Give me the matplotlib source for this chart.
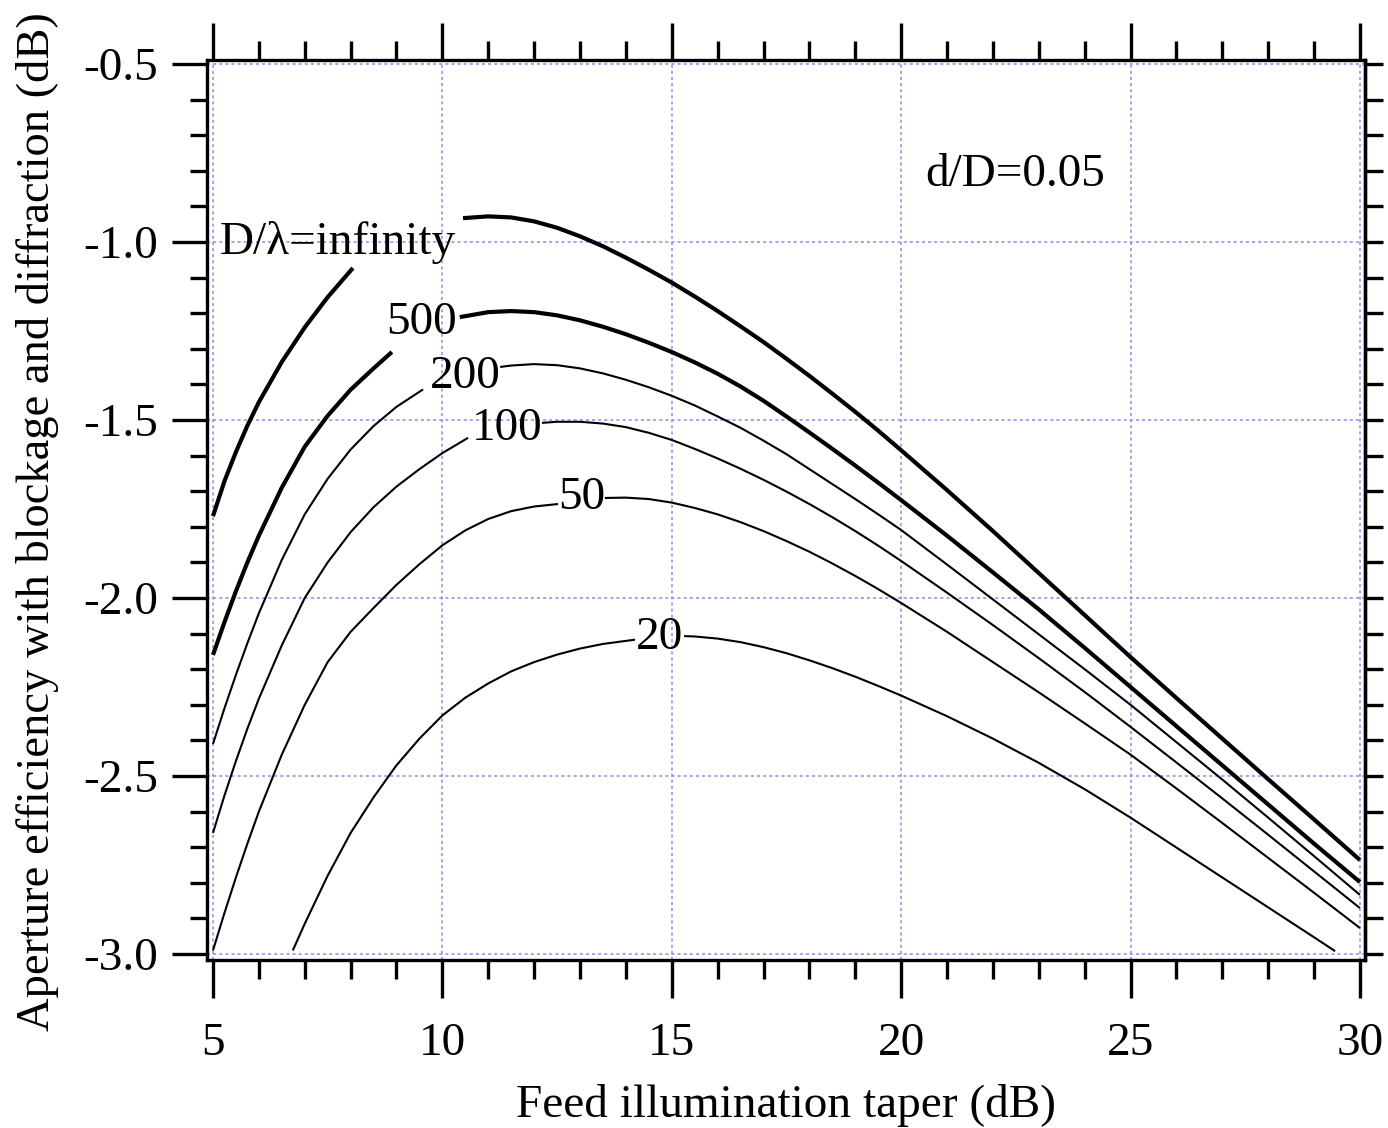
import numpy as np
import matplotlib
matplotlib.use("Agg")
import matplotlib.pyplot as plt
from matplotlib.ticker import MultipleLocator, FormatStrFormatter

plt.rcParams['font.family'] = ['Liberation Serif', 'DejaVu Serif']
plt.rcParams['axes.unicode_minus'] = False

# ------------------------
# Data, D/lambda curves
# each curve: left part | right part (gap where the label sits)
# ------------------------
inf_x_left = [5, 5.25, 5.5, 5.75, 6, 6.5, 7, 7.5, 8.05]
inf_y_left = [-1.77, -1.672, -1.59, -1.516, -1.45, -1.337, -1.24, -1.155, -1.073]
inf_x_right = [10.45, 11, 11.5, 12, 12.5, 13, 13.5, 14, 14.5, 15, 15.5, 16, 16.5, 17, 17.5,
               18, 18.5, 19, 19.5, 20, 21, 22, 23, 24, 25, 26, 27, 28, 29, 30]
inf_y_right = [-0.933, -0.928, -0.931, -0.942, -0.960, -0.984, -1.012, -1.044, -1.078, -1.114,
               -1.153, -1.194, -1.237, -1.281, -1.328, -1.376, -1.426, -1.477, -1.530, -1.585,
               -1.697, -1.812, -1.930, -2.048, -2.166, -2.281, -2.395, -2.509, -2.622, -2.736]

d500_x_left = [5, 5.25, 5.5, 5.75, 6, 6.5, 7, 7.5, 8, 8.5, 8.9]
d500_y_left = [-2.16, -2.068, -1.981, -1.900, -1.825, -1.690, -1.575, -1.488, -1.415, -1.355, -1.309]
d500_x_right = [10.38, 11, 11.5, 12, 12.5, 13, 13.5, 14, 14.5, 15, 15.5, 16, 16.5, 17, 17.5,
                18, 18.5, 19, 19.5, 20, 21, 22, 23, 24, 25, 26, 27, 28, 29, 30]
d500_y_right = [-1.211, -1.197, -1.194, -1.197, -1.206, -1.220, -1.238, -1.259, -1.283, -1.309,
                -1.338, -1.370, -1.406, -1.446, -1.490, -1.535, -1.581, -1.628, -1.676, -1.725,
                -1.825, -1.928, -2.032, -2.140, -2.250, -2.360, -2.470, -2.580, -2.690, -2.798]

d200_x_left = [5, 5.25, 5.5, 5.75, 6, 6.5, 7, 7.5, 8, 8.5, 9, 9.58]
d200_y_left = [-2.41, -2.31, -2.216, -2.127, -2.043, -1.893, -1.765, -1.665, -1.583, -1.517, -1.463, -1.414]
d200_x_right = [11.26, 11.5, 12, 12.5, 13, 13.5, 14, 14.5, 15, 15.5, 16, 16.5, 17, 17.5,
                18, 18.5, 19, 19.5, 20, 21, 22, 23, 24, 25, 26, 27, 28, 29, 30]
d200_y_right = [-1.351, -1.347, -1.343, -1.346, -1.355, -1.369, -1.387, -1.408, -1.432, -1.459,
                -1.490, -1.522, -1.558, -1.596, -1.638, -1.680, -1.722, -1.765, -1.809,
                -1.906, -2.004, -2.102, -2.200, -2.300, -2.405, -2.510, -2.617, -2.725, -2.834]

d100_x_left = [5, 5.25, 5.5, 5.75, 6, 6.5, 7, 7.5, 8, 8.5, 9, 9.5, 10, 10.56]
d100_y_left = [-2.66, -2.555, -2.458, -2.367, -2.283, -2.133, -2.0, -1.9, -1.815, -1.745, -1.687,
               -1.638, -1.593, -1.550]
d100_x_right = [12.17, 12.5, 13, 13.5, 14, 14.5, 15, 15.5, 16, 16.5, 17, 17.5, 18, 18.5, 19, 19.5,
                20, 21, 22, 23, 24, 25, 26, 27, 28, 29, 30]
d100_y_right = [-1.508, -1.505, -1.505, -1.510, -1.520, -1.536, -1.556, -1.581, -1.608, -1.637,
                -1.668, -1.701, -1.736, -1.773, -1.812, -1.853, -1.896, -1.985, -2.076, -2.169,
                -2.264, -2.362, -2.462, -2.563, -2.665, -2.768, -2.871]

d50_x_left = [5, 5.25, 5.5, 5.75, 6, 6.5, 7, 7.5, 8, 8.5, 9, 9.5, 10, 10.5, 11, 11.5, 12, 12.52]
d50_y_left = [-2.99, -2.885, -2.785, -2.69, -2.60, -2.44, -2.30, -2.18, -2.095, -2.028, -1.963,
              -1.905, -1.852, -1.81, -1.778, -1.756, -1.743, -1.736]
d50_x_right = [13.54, 14, 14.5, 15, 15.5, 16, 16.5, 17, 17.5, 18, 18.5, 19, 19.5, 20,
               21, 22, 23, 24, 25, 26, 27, 28, 29, 30]
d50_y_right = [-1.719, -1.718, -1.722, -1.732, -1.747, -1.765, -1.787, -1.812, -1.840, -1.870,
               -1.903, -1.938, -1.975, -2.014, -2.095, -2.180, -2.265, -2.352, -2.440, -2.535,
               -2.632, -2.730, -2.828, -2.927]

d20_x_left = [6.74, 7, 7.5, 8, 8.5, 8.86, 9, 9.5, 10, 10.5, 11, 11.5, 12, 12.5, 13, 13.5, 14.2]
d20_y_left = [-2.99, -2.915, -2.78, -2.66, -2.56, -2.495, -2.47, -2.395, -2.33, -2.28, -2.24,
              -2.206, -2.18, -2.159, -2.142, -2.129, -2.117]
d20_x_right = [15.27, 15.5, 16, 16.5, 17, 17.5, 18, 18.5, 19, 19.5, 20, 21, 22, 23, 24, 25,
               26, 27, 28, 29, 29.46]
d20_y_right = [-2.107, -2.108, -2.114, -2.124, -2.138, -2.155, -2.175, -2.197, -2.221, -2.247,
               -2.274, -2.332, -2.395, -2.463, -2.537, -2.617, -2.701, -2.785, -2.869, -2.953, -2.992]

curve_labels = ["D/\u03bb=infinity", "500", "200", "100", "50", "20"]
label_x = [5.15, 9.55, 10.49, 11.41, 13.04, 14.74]
label_y = [-1.0, -1.228, -1.379, -1.525, -1.719, -2.112]

curves = [
    (inf_x_left, inf_y_left, inf_x_right, inf_y_right, 3.0),
    (d500_x_left, d500_y_left, d500_x_right, d500_y_right, 3.0),
    (d200_x_left, d200_y_left, d200_x_right, d200_y_right, 1.5),
    (d100_x_left, d100_y_left, d100_x_right, d100_y_right, 1.5),
    (d50_x_left, d50_y_left, d50_x_right, d50_y_right, 1.5),
    (d20_x_left, d20_y_left, d20_x_right, d20_y_right, 1.5),
]

# ------------------------
# Plot
# ------------------------
fig = plt.figure(figsize=(13.88, 11.28), dpi=100)
ax = fig.add_axes([0.1491, 0.1489, 0.8343, 0.7979])

for xl, yl, xr, yr, lw in curves:
    ax.plot(xl, yl, color='black', lw=lw, solid_capstyle='butt', solid_joinstyle='round')
    ax.plot(xr, yr, color='black', lw=lw, solid_capstyle='butt', solid_joinstyle='round')

fs = 34
for i, lab in enumerate(curve_labels):
    ha = 'left' if i == 0 else 'center'
    ax.text(label_x[i], label_y[i], lab, ha=ha, va='center', fontsize=fs)

ax.text(20.52, -0.812, "d/D=0.05", ha='left', va='center', fontsize=fs)

ax.set_xlim(4.869, 30.109)
ax.set_ylim(-3.0169, -0.4888)

ax.xaxis.set_major_locator(MultipleLocator(5))
ax.xaxis.set_minor_locator(MultipleLocator(1))
ax.yaxis.set_major_locator(MultipleLocator(0.5))
ax.yaxis.set_minor_locator(MultipleLocator(0.1))
ax.yaxis.set_major_formatter(FormatStrFormatter('%.1f'))

ax.grid(True, which='major', color='#8c8ce6', linestyle=(0, (2, 2)), lw=1.1)

for sp in ax.spines.values():
    sp.set_linewidth(2.4)

ax.tick_params(axis='x', which='major', direction='out', length=27, width=2.4,
               top=True, bottom=True, labelsize=fs, pad=18)
ax.tick_params(axis='x', which='minor', direction='out', length=14, width=2.4,
               top=True, bottom=True)
ax.tick_params(axis='y', which='major', direction='out', length=25, width=2.4,
               left=True, right=False, labelsize=fs, pad=10)
ax.tick_params(axis='y', which='minor', direction='out', length=12, width=2.4,
               left=True, right=False)

sec = ax.secondary_yaxis('right')
sec.yaxis.set_major_locator(MultipleLocator(0.5))
sec.yaxis.set_minor_locator(MultipleLocator(0.1))
sec.tick_params(which='both', direction='out', length=13, width=2.4, labelright=False)
sec.spines['right'].set_linewidth(2.4)

ax.set_xlabel("Feed illumination taper (dB)", fontsize=fs, labelpad=14)
ax.set_ylabel("Aperture efficiency with blockage and diffraction (dB)", fontsize=33.5)
ax.yaxis.set_label_coords(-0.128, 0.487)

plt.savefig("out.png", dpi=100)
plt.close()
